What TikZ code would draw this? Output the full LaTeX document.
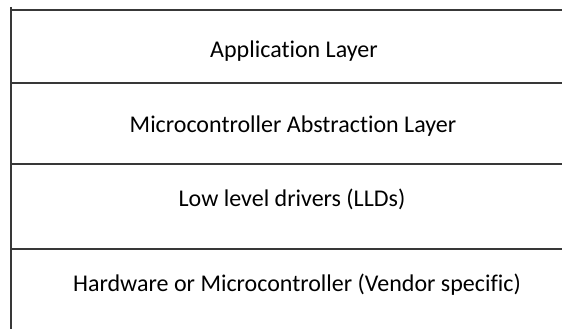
\documentclass[tikz,border=0pt]{standalone}
\usepackage{fontspec}
\setmainfont{Carlito}[Ligatures=NoCommon]
\usepackage{xcolor}
\usepackage{tikz}
\usetikzlibrary{positioning}

\begin{document}
\begin{tikzpicture}[
    x=1pt, y=-1pt,
    rule/.style  = {draw=black!78, line width=1.7pt},
    layer/.style = {anchor=base, inner sep=0pt,
                    font=\fontsize{24}{28}\selectfont},
]
\useasboundingbox (0,0) rectangle (562,329);

%% ── Frame ────────────────────────────────────────────────────────────────
\draw[rule] (11,7) -- (11,329);
\draw[rule] (11,10) -- (562,10);
\draw[rule] (11,83) -- (562,83);
\draw[rule] (11,164) -- (562,164);
\draw[rule] (11,249) -- (562,249);

%% ── Layers ───────────────────────────────────────────────────────────────
\node[layer] (app)  at (294,58)  {Application Layer};
\node[layer] (mcal) at (293,132) {Microcontroller Abstraction Layer};
\node[layer] (lld)  at (292,206) {Low level drivers (LLDs)};
\node[layer] (hw)   at (297,291) {Hardware or Microcontroller (Vendor specific)};

\end{tikzpicture}
\end{document}
